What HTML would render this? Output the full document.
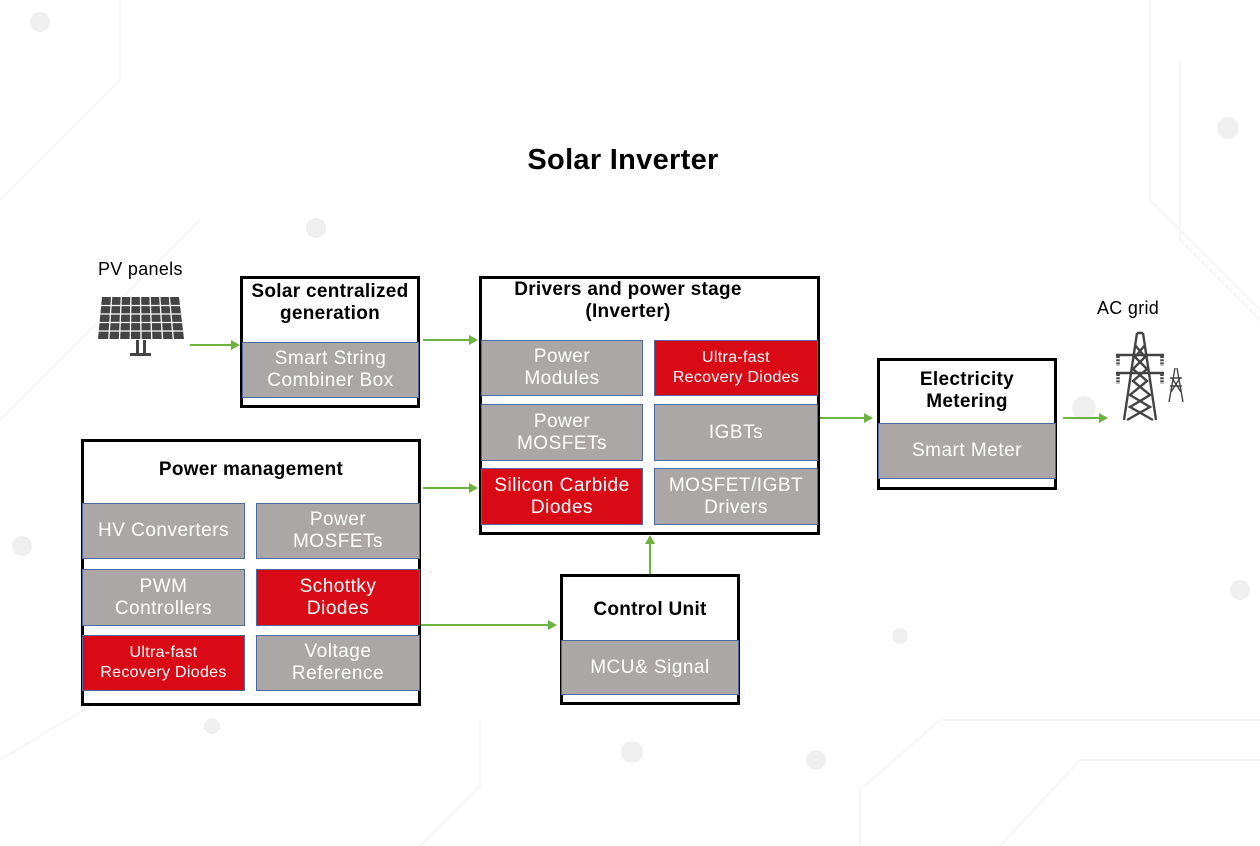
<!DOCTYPE html>
<html><head><meta charset="utf-8"><style>
*{margin:0;padding:0;box-sizing:border-box}
body{width:1260px;height:846px;background:#fff;position:relative;overflow:hidden;font-family:"Liberation Sans",sans-serif}
.abs{position:absolute}
.box{position:absolute;border:3px solid #000;background:#fff}
.t{position:absolute;text-align:center;font-weight:bold;color:#000;font-size:19px;line-height:22px;letter-spacing:0.3px}
.c{position:absolute;display:flex;align-items:center;justify-content:center;text-align:center;color:#fff;font-size:19px;line-height:22px;letter-spacing:0.5px;border:1.5px solid #4a6aa0;background:#aba7a6}
.r{background:#d90a16}
.s{font-size:16px;line-height:20px;letter-spacing:0.3px}
</style></head><body>
<svg class="abs" style="left:0;top:0" width="1260" height="846">
<g fill="#efefef" stroke="none">
<circle cx="40" cy="22" r="10"/><circle cx="1228" cy="128" r="11"/><circle cx="316" cy="228" r="10"/><circle cx="22" cy="546" r="10"/><circle cx="1240" cy="590" r="10"/><circle cx="632" cy="752" r="11"/><circle cx="816" cy="760" r="10"/><circle cx="1084" cy="408" r="12"/><circle cx="212" cy="726" r="8"/><circle cx="900" cy="636" r="8"/>
</g>
<g stroke="#f6f6f6" stroke-width="2" fill="none">
<path d="M1150 0 V200 L1260 310"/><path d="M1180 60 V240 L1260 320"/><path d="M0 200 L120 80 V0"/><path d="M0 420 L200 220"/><path d="M860 846 V790 L940 720 H1260"/><path d="M420 846 L480 786 V720"/><path d="M1000 846 L1080 760 H1260"/><path d="M0 760 L100 700 V600"/>
</g>
<g stroke="#6db33f" stroke-width="2" fill="#6db33f">
<line x1="190" y1="345" x2="232" y2="345"/><polygon points="240,345 231,340 231,350" stroke="none"/>
<line x1="423" y1="340" x2="470" y2="340"/><polygon points="478,340 469,335 469,345" stroke="none"/>
<line x1="423" y1="488" x2="470" y2="488"/><polygon points="478,488 469,483 469,493" stroke="none"/>
<line x1="420" y1="625" x2="548" y2="625"/><polygon points="557,625 548,620 548,630" stroke="none"/>
<line x1="650" y1="575" x2="650" y2="544"/><polygon points="650,535 645,544 655,544" stroke="none"/>
<line x1="820" y1="418" x2="865" y2="418"/><polygon points="873,418 864,413 864,423" stroke="none"/>
<line x1="1063" y1="418" x2="1100" y2="418"/><polygon points="1108,418 1099,413 1099,423" stroke="none"/>
</g>
<polygon points="102,297 179,297 184,339 98,339" fill="#444"/>
<g stroke="#fff" stroke-width="1.3">
<line x1="101" y1="305.5" x2="180" y2="305.5"/><line x1="100" y1="314" x2="181" y2="314"/><line x1="99" y1="322.5" x2="182" y2="322.5"/><line x1="98" y1="331" x2="183" y2="331"/>
<line x1="111.6" y1="297" x2="108.8" y2="339"/><line x1="121.3" y1="297" x2="119.5" y2="339"/><line x1="130.9" y1="297" x2="130.3" y2="339"/><line x1="140.5" y1="297" x2="141" y2="339"/><line x1="150.1" y1="297" x2="151.8" y2="339"/><line x1="159.8" y1="297" x2="162.5" y2="339"/><line x1="169.4" y1="297" x2="173.3" y2="339"/>
</g>
<rect x="136" y="340" width="3" height="14" fill="#444"/><rect x="143" y="340" width="3" height="14" fill="#444"/><rect x="130" y="353" width="21" height="3" fill="#444"/>
<g stroke="#444" stroke-width="2.4" fill="none">
<path d="M1137 333 L1124 420 M1143 333 L1156 420 M1137 333 H1143 M1135 345 L1145 357 L1133 369 L1147 381 L1130 395 L1150 407 L1127 420 M1145 345 L1135 357 L1147 369 L1133 381 L1150 395 L1130 407 L1153 420"/>
<path d="M1116 355 H1164 M1116 373 H1164"/>
<path d="M1118 356 v10 M1162 356 v10 M1118 374 v10 M1162 374 v10" stroke-width="3.5" stroke-dasharray="2 1.2"/>
<g stroke-width="1.4"><path d="M1175 368 L1169 402 M1177 368 L1183 402 M1170 378 H1182 M1170 386 H1182 M1172 378 L1181 392 M1180 378 L1171 392"/></g>
</g>
</svg>

<div class="t" style="left:473px;top:144px;width:300px;font-size:29px;line-height:32px">Solar Inverter</div>
<div class="abs" style="left:98px;top:259px;font-size:18px;letter-spacing:0.3px">PV panels</div>
<div class="abs" style="left:1097px;top:298px;font-size:18px;letter-spacing:0.3px">AC grid</div>

<div class="box" style="left:240px;top:276px;width:180px;height:132px"></div>
<div class="t" style="left:243px;top:281px;width:174px;font-size:19px">Solar centralized<br>generation</div>
<div class="c" style="left:242px;top:342px;width:177px;height:56px">Smart String<br>Combiner Box</div>

<div class="box" style="left:479px;top:276px;width:341px;height:259px"></div>
<div class="t" style="left:482px;top:279px;width:292px">Drivers and power stage<br>(Inverter)</div>
<div class="c" style="left:481px;top:340px;width:162px;height:56px">Power<br>Modules</div>
<div class="c r s" style="left:654px;top:340px;width:164px;height:56px">Ultra-fast<br>Recovery Diodes</div>
<div class="c" style="left:481px;top:404px;width:162px;height:57px">Power<br>MOSFETs</div>
<div class="c" style="left:654px;top:404px;width:164px;height:57px">IGBTs</div>
<div class="c r" style="left:481px;top:468px;width:162px;height:57px">Silicon Carbide<br>Diodes</div>
<div class="c" style="left:654px;top:468px;width:164px;height:57px">MOSFET/IGBT<br>Drivers</div>

<div class="box" style="left:81px;top:439px;width:340px;height:267px"></div>
<div class="t" style="left:84px;top:459px;width:334px">Power management</div>
<div class="c" style="left:82px;top:503px;width:163px;height:56px">HV Converters</div>
<div class="c" style="left:256px;top:503px;width:164px;height:56px">Power<br>MOSFETs</div>
<div class="c" style="left:82px;top:569px;width:163px;height:57px">PWM<br>Controllers</div>
<div class="c r" style="left:256px;top:569px;width:164px;height:57px">Schottky<br>Diodes</div>
<div class="c r s" style="left:82px;top:635px;width:163px;height:56px">Ultra-fast<br>Recovery Diodes</div>
<div class="c" style="left:256px;top:635px;width:164px;height:56px">Voltage<br>Reference</div>

<div class="box" style="left:560px;top:574px;width:180px;height:131px"></div>
<div class="t" style="left:563px;top:599px;width:174px">Control Unit</div>
<div class="c" style="left:561px;top:640px;width:178px;height:55px">MCU&amp; Signal</div>

<div class="box" style="left:877px;top:358px;width:180px;height:132px"></div>
<div class="t" style="left:880px;top:369px;width:174px">Electricity<br>Metering</div>
<div class="c" style="left:878px;top:423px;width:178px;height:56px">Smart Meter</div>
</body></html>
